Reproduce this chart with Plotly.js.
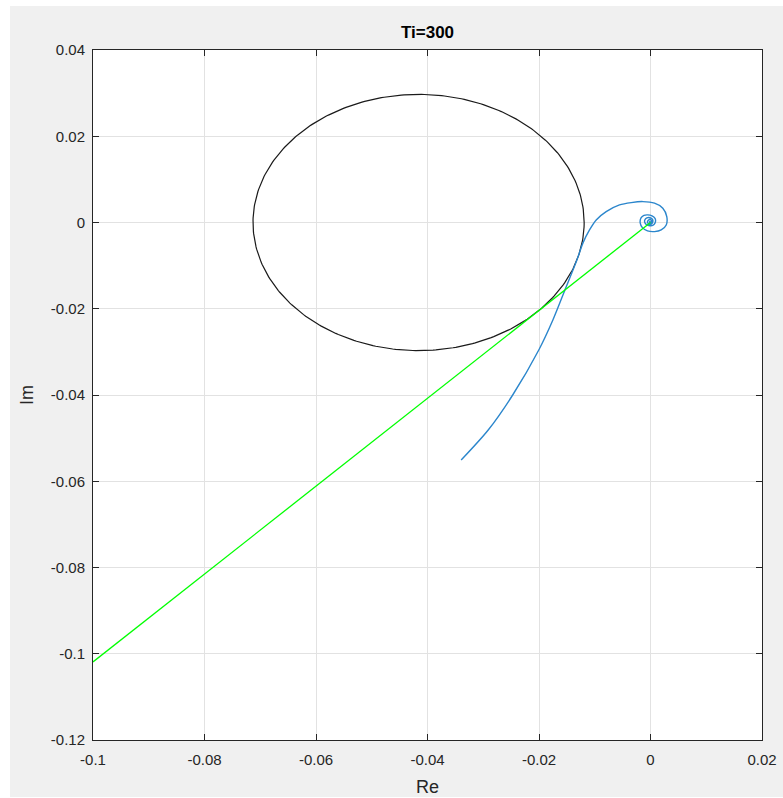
<!DOCTYPE html>
<html>
<head>
<meta charset="utf-8">
<script src="https://cdn.plot.ly/plotly-3.0.1.min.js"></script>
<style>
html,body{margin:0;padding:0;background:#ffffff;width:783px;height:798px;overflow:hidden;}
#wrap{position:absolute;left:10px;top:6px;width:773px;height:791px;background:#f0f0f0;}
#plot{width:773px;height:791px;}
</style>
</head>
<body>
<div id="wrap"><div id="plot"></div></div>
<script>
// Nyquist curve (blue)
const nyqRe = [-0.03396,-0.02911,-0.02472,-0.02004,-0.01751,-0.01535,-0.01320,-0.01211,-0.01094,-0.00974,
  -0.00795,-0.00556,-0.00346,
  -0.00138,0.00072,0.00221,0.00292,0.00282,0.00192,0.00072,-0.00054,-0.00143,-0.00185,
  -0.00170,-0.00117,-0.00048,0.00027,0.00081,0.00090,0.00063,0.00009,-0.00054,-0.00099,
  -0.00102,-0.00066,-0.00009,0.00036,0.00041,0.00018,-0.00027,-0.00054,-0.00039,0.00000,
  0.00022,0.00004,-0.00022,-0.00009,0.00000];
const nyqIm = [-0.05508,-0.04812,-0.04000,-0.02956,-0.02260,-0.01564,-0.00868,-0.00473,-0.00172,0.00060,
  0.00253,0.00408,0.00462,
  0.00485,0.00448,0.00332,0.00137,-0.00056,-0.00172,-0.00211,-0.00195,-0.00125,-0.00009,
  0.00107,0.00165,0.00176,0.00153,0.00095,0.00026,-0.00044,-0.00074,-0.00063,-0.00009,
  0.00060,0.00107,0.00111,0.00072,0.00014,-0.00032,-0.00037,0.00002,0.00053,0.00065,
  0.00026,-0.00009,0.00007,0.00026,0.00007];

// M-circle (black)
const circleCenterRe = -0.0416;
const circleCenterIm = 0;
const circleRadius = 0.0297;

// Tangent line (green)
const lineRe = [0, -0.1];
const lineIm = [0, -0.1019];

// Axis ticks
const xTicks = [-0.1, -0.08, -0.06, -0.04, -0.02, 0, 0.02];
const xTickText = ['-0.1', '-0.08', '-0.06', '-0.04', '-0.02', '0', '0.02'];
const yTicks = [-0.12, -0.1, -0.08, -0.06, -0.04, -0.02, 0, 0.02, 0.04];
const yTickText = ['-0.12', '-0.1', '-0.08', '-0.06', '-0.04', '-0.02', '0', '0.02', '0.04'];

const circRe = [], circIm = [];
for (let i = 0; i <= 360; i++) {
  const a = i * Math.PI / 180;
  circRe.push(circleCenterRe + circleRadius * Math.cos(a));
  circIm.push(circleCenterIm + circleRadius * Math.sin(a));
}

const traces = [
  {x: circRe, y: circIm, mode: 'lines', line: {color: '#1a1a1a', width: 1.2}, hoverinfo: 'skip'},
  {x: nyqRe, y: nyqIm, mode: 'lines', line: {color: '#2b86cc', width: 1.4, shape: 'spline', smoothing: 0.8}},
  {x: lineRe, y: lineIm, mode: 'lines', line: {color: '#00ff00', width: 1.3}}
];

const fam = 'Liberation Sans, Arial, Helvetica, sans-serif';
const axisFont = {family: fam, size: 15, color: '#262626'};
const common = {
  showline: true, linecolor: '#262626', linewidth: 1, mirror: 'ticks',
  ticks: 'inside', ticklen: 6, tickcolor: '#262626', tickwidth: 1,
  showgrid: true, gridcolor: '#e2e2e2', gridwidth: 1, zeroline: false,
  tickfont: axisFont, tickmode: 'array'
};

const layout = {
  width: 773, height: 791,
  margin: {l: 83, r: 21, t: 44, b: 57},
  paper_bgcolor: '#f0f0f0', plot_bgcolor: '#ffffff',
  showlegend: false,
  title: {text: '<b>Ti=300</b>', x: 0.5, xref: 'paper', y: 0.967, yref: 'container', yanchor: 'middle',
    font: {family: fam, size: 17, color: '#000000'}},
  xaxis: Object.assign({}, common, {
    range: [-0.1, 0.02], tickvals: xTicks, ticktext: xTickText, ticklabelstandoff: 6,
    title: {text: 'Re', standoff: 16, font: {family: fam, size: 18, color: '#262626'}}
  }),
  yaxis: Object.assign({}, common, {
    range: [-0.12, 0.04], tickvals: yTicks, ticktext: yTickText, ticklabelstandoff: 4,
    title: {text: 'Im', standoff: 12, font: {family: fam, size: 18, color: '#262626'}}
  })
};

Plotly.newPlot('plot', traces, layout, {displayModeBar: false, staticPlot: true});
</script>
</body>
</html>
